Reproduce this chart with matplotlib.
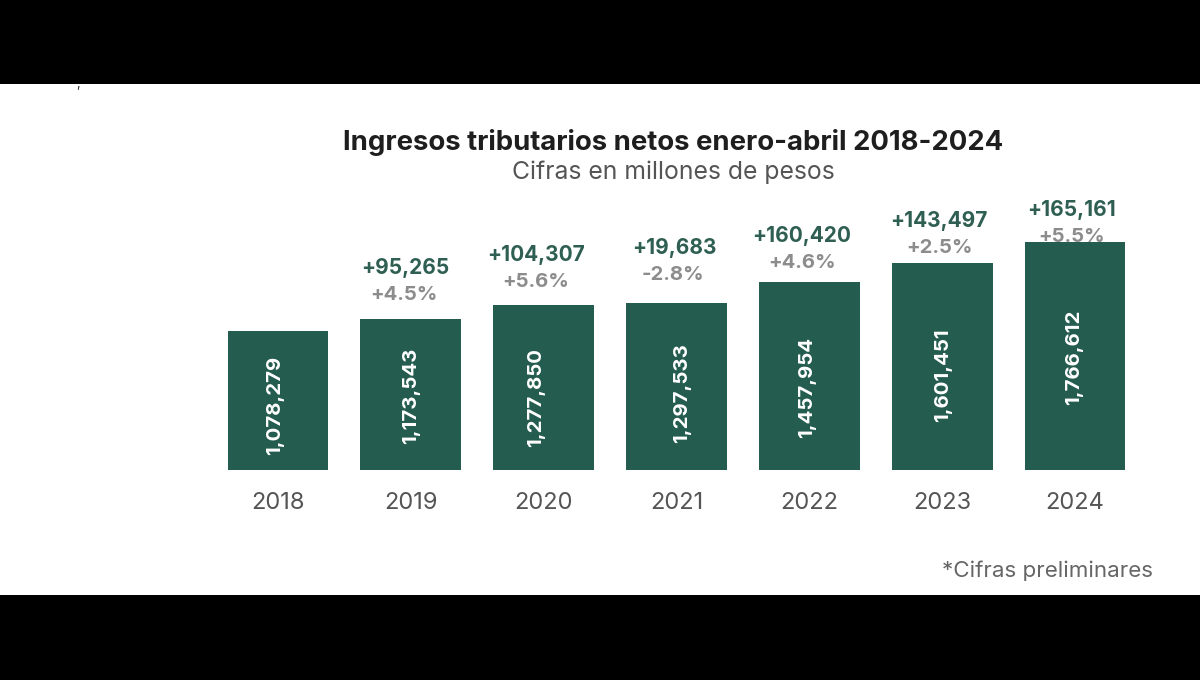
import matplotlib
matplotlib.use("Agg")
import matplotlib.pyplot as plt
from matplotlib.patches import Rectangle

years = ["2018", "2019", "2020", "2021", "2022", "2023", "2024"]
values = [1078279, 1173543, 1277850, 1297533, 1457954, 1601451, 1766612]
value_labels = ["1,078,279", "1,173,543", "1,277,850", "1,297,533", "1,457,954", "1,601,451", "1,766,612"]
abs_change = [None, "+95,265", "+104,307", "+19,683", "+160,420", "+143,497", "+165,161"]
pct_change = [None, "+4.5%", "+5.6%", "-2.8%", "+4.6%", "+2.5%", "+5.5%"]

# label placement offsets in pixels
abs_offset = [0, 52, 52, 56, 47, 44, 34]
pct_offset = [0, 25, 25, 29, 20, 17, 7]
abs_dx = [0, -6, -7.5, -2, -8, -3.5, -3]
pct_dx = [0, -6.5, -8, -4, -7.5, -3, -3]
val_dx = [-3, 0, -7.5, 5.5, -2, 1, -1]
val_dy = [-5.5, -1.5, -9.5, -6.5, -11.5, -8.5, -1.5]

W, H = 1200, 680
GREEN = "#245C4F"
FONT = ["Inter", "DejaVu Sans"]
PT = 0.72

fig = plt.figure(figsize=(W / 100, H / 100), dpi=100, facecolor="black")
fig.add_artist(Rectangle((0, 1 - 595 / H), 1, (595 - 84) / H, transform=fig.transFigure,
                         facecolor="white", edgecolor="none", zorder=0))

def fx(px):
    return px / W

def fy(py):
    return 1 - py / H

left, right, bottom, top = 211.6, 1141.4, 470, 190
ax = fig.add_axes([fx(left), fy(bottom), (right - left) / W, (bottom - top) / H])
ax.patch.set_alpha(0)
ax.set_xlim(-0.5, 6.5)
ax.set_ylim(0, (bottom - top) / 228 * 1766612)
for s in ax.spines.values():
    s.set_visible(False)
ax.set_yticks([])
xs = list(range(len(years)))
ax.bar(xs, values, width=0.76, color=GREEN, edgecolor="none", zorder=3)
ax.set_xticks(xs, years, fontsize=17, color="#555555", family=FONT)
ax.tick_params(axis="x", length=0, pad=16)

for i, v in enumerate(values):
    ax.annotate(value_labels[i], (i, v / 2), xytext=(val_dx[i] * PT, val_dy[i] * PT), textcoords="offset points",
                rotation=90, ha="center", va="center", color="white", fontsize=14.7, fontweight="bold",
                family=FONT, zorder=4)
    if abs_change[i]:
        ax.annotate(abs_change[i], (i, v), xytext=(abs_dx[i] * PT, (abs_offset[i] - 1.5) * PT),
                    textcoords="offset points", ha="center", va="center", color="#2F5F52", fontsize=15,
                    fontweight="bold", family=FONT)
        ax.annotate(pct_change[i], (i, v), xytext=(pct_dx[i] * PT, (pct_offset[i] - 1.5) * PT),
                    textcoords="offset points", ha="center", va="center", color="#8C8C8C", fontsize=14.6,
                    fontweight="bold", family=FONT, zorder=1)

fig.text(fx(673), fy(142), "Ingresos tributarios netos enero-abril 2018-2024", ha="center", va="center",
         fontsize=19.8, fontweight="bold", color="#1E1E1E", family=FONT)
fig.text(fx(673), fy(172), "Cifras en millones de pesos", ha="center", va="center",
         fontsize=17.8, color="#555555", family=FONT)
fig.text(fx(1153), fy(571), "*Cifras preliminares", ha="right", va="center",
         fontsize=16.1, color="#666666", family=FONT)
fig.text(fx(78), fy(85), ",", ha="center", va="center", fontsize=9, color="#333333", family=FONT)

fig.savefig("out.png", dpi=100, facecolor=fig.get_facecolor())
